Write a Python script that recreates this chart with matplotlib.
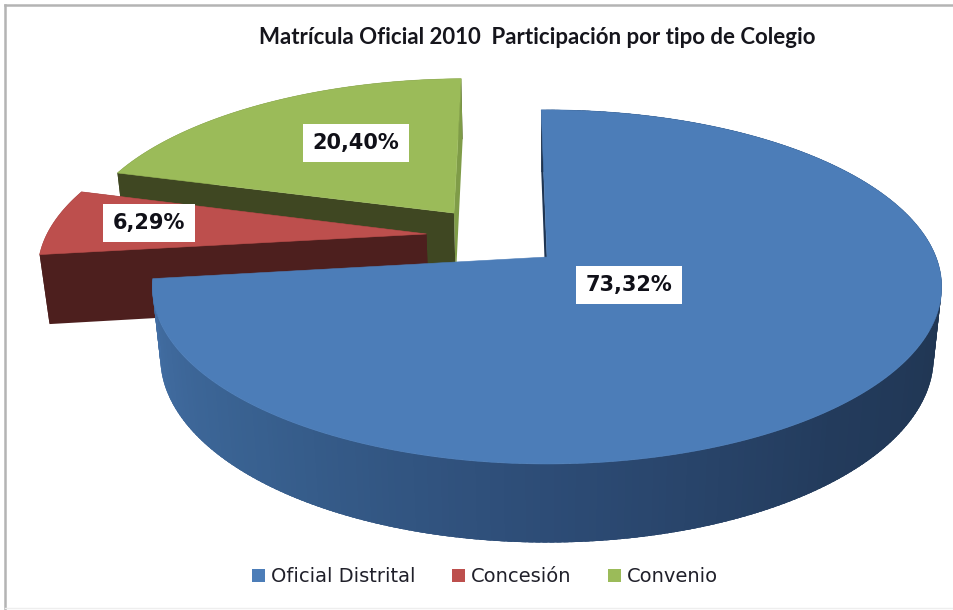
import matplotlib
matplotlib.use('Agg')
import matplotlib.pyplot as plt
from matplotlib.patches import Patch, Polygon
import numpy as np

title = 'Matrícula Oficial 2010  Participación por tipo de Colegio'
names = ['Oficial Distrital', 'Concesión', 'Convenio']
shares = [73.32, 6.29, 20.40]
labels = ['73,32%', '6,29%', '20,40%']

colors = ['#4c7db8', '#bd4f4d', '#9bbb59']
cut_colors = ['#1f3552', '#4d1f1e', '#3f4722']
end_colors = ['#1f3552', '#4d1f1e', '#7f9c48']
# pulled out distance of each slice, in units of the pie radius
explode = [(0.0, 0.0), (-0.317, 0.137), (-0.25, 0.267)]
radius = [1.0, 0.998, 0.99]
label_pos = [(629, 285), (149, 223), (356, 143)]
start_angle = -1.0

# perspective of the pie, in pixels of the picture
CX, CY = 547, 257
RX, RY = 389, 172
TILT = 0.169
DEPTH = 71
SHRINK = 0.02

# shade of the blue outer wall, left to right
wall_angles = [90, 140, 180, 220, 264]
wall_shades = ['#1f344f', '#233b5c', '#2d4c76', '#38608f', '#4470a6']


def project(x, y, z=0):
    w = 1 + TILT * y + SHRINK * z
    return CX + RX * x / w, CY + (DEPTH * z - RY * y) / w


def rim(t, off, r=1.0, z=0):
    a = np.radians(t)
    return project(r * np.sin(a) + off[0], r * np.cos(a) + off[1], z)


def wall(ax, t, off, r, color):
    xt, yt = rim(t, off, r)
    xb, yb = rim(t, off, r, 1)
    pts = np.r_[np.c_[xt, yt], np.c_[xb, yb][::-1]]
    ax.add_patch(Polygon(pts, fc=color, ec='none'))


def radial(ax, t, off, r, color):
    xa, ya = project(off[0], off[1])
    xb, yb = project(off[0], off[1], 1)
    xr, yr = rim(np.array([t]), off, r)
    xs, ys = rim(np.array([t]), off, r, 1)
    pts = [(xa, ya), (xr[0], yr[0]), (xs[0], ys[0]), (xb, yb)]
    ax.add_patch(Polygon(pts, fc=color, ec='none'))


fig = plt.figure(figsize=(9.54, 6.10), dpi=100)
ax = fig.add_axes([0, 0, 1, 1])
ax.set_xlim(0, 954)
ax.set_ylim(610, 0)
ax.axis('off')

# chart frame
ax.plot([5, 5], [610, 5], color='#b4b4b4', lw=1.8)
ax.plot([5, 954], [5, 5], color='#b4b4b4', lw=1.8)
ax.plot([5, 954], [608, 608], color='#eeeeee', lw=1)

# slice angles come from the shares
total = sum(shares)
edges = start_angle + np.cumsum([0] + shares) / total * 360

# back slices first, blue last
for i in [2, 1, 0]:
    t = np.linspace(edges[i], edges[i + 1], 300)
    off = explode[i]
    r = radius[i]
    if i == 0:
        radial(ax, edges[0], off, r, cut_colors[0])
        # gradient on the outer wall, each piece overlaps the one before
        shades = np.array([matplotlib.colors.to_rgb(c) for c in wall_shades])
        for a, b in zip(t[:-1], t[1:]):
            mid = (a + b) / 2
            c = [np.interp(mid, wall_angles, shades[:, k]) for k in range(3)]
            wall(ax, np.array([a, min(b + 1.5, edges[1])]), off, r, tuple(c))
    else:
        wall(ax, t, off, r, cut_colors[i])
        radial(ax, edges[i + 1], off, r, end_colors[i])
        radial(ax, edges[i], off, r, cut_colors[i])
    xa, ya = project(off[0], off[1])
    xr, yr = rim(t, off, r)
    top = np.r_[[[xa, ya]], np.c_[xr, yr]]
    ax.add_patch(Polygon(top, fc=colors[i], ec=colors[i], lw=0.4))

for (x, y), lab in zip(label_pos, labels):
    ax.text(x, y, lab, ha='center', va='center', fontsize=15, color='#101018',
            family='DejaVu Sans', fontweight='bold',
            bbox=dict(boxstyle='square,pad=0.45', fc='white', ec='none'))

ax.text(537, 37, title, ha='center', va='center', fontsize=16,
        family='Lato', fontweight='bold', color='#15151c')

handles = [Patch(fc=c, ec='none', label=n) for c, n in zip(colors, names)]
leg = ax.legend(handles=handles, loc='center', bbox_to_anchor=(485, 577),
                bbox_transform=ax.transData, ncol=3, frameon=False,
                handlelength=0.65, handleheight=0.65, handletextpad=0.3,
                columnspacing=1.9, prop=dict(family='DejaVu Sans', size=14))
for txt in leg.get_texts():
    txt.set_color('#20202a')

fig.savefig('out.png', dpi=100)
